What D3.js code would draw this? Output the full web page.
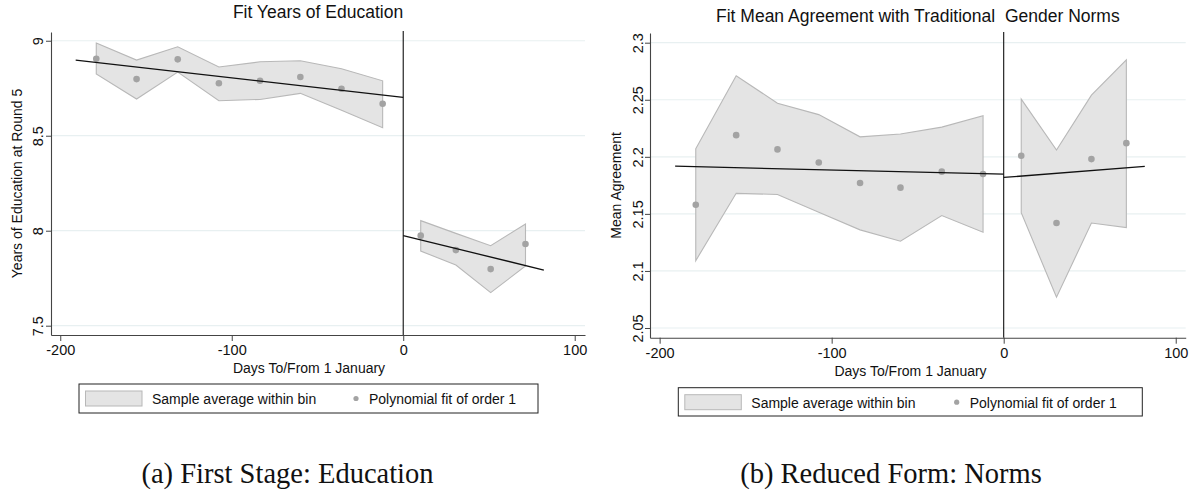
<!DOCTYPE html>
<html><head><meta charset="utf-8">
<script src="https://cdn.jsdelivr.net/npm/d3@7"></script>
<style>
body{margin:0;background:#fff;}
svg{display:block;font-family:"Liberation Sans",Arial,Helvetica,sans-serif;}
</style></head>
<body><svg id="c" width="1197" height="496"></svg>
<script>
// ---- data ----
const binsLeft = [-179, -155.5, -131.5, -107.5, -83.5, -60, -36, -12];
const binsRight = [10.2, 30.7, 51, 71.3];
const fitXLeft = [-191, 0];
const fitXRight = [0, 82];
const xTicks = [-200, -100, 0, 100];
const xTickLabels = ["-200", "-100", "0", "100"];

const eduMeanL = [8.905, 8.798, 8.902, 8.776, 8.789, 8.809, 8.747, 8.668];
const eduUpL   = [8.988, 8.898, 8.968, 8.862, 8.889, 8.895, 8.853, 8.789];
const eduLoL   = [8.825, 8.693, 8.835, 8.684, 8.691, 8.723, 8.634, 8.542];
const eduMeanR = [7.974, 7.898, 7.798, 7.930];
const eduUpR   = [8.053, 7.986, 7.921, 8.035];
const eduLoR   = [7.893, 7.819, 7.674, 7.814];
const eduFitL  = [8.898, 8.702];
const eduFitR  = [7.974, 7.793];
const eduTicks = [7.5, 8, 8.5, 9];
const eduTickLabels = ["7.5", "8", "8.5", "9"];

const normMeanL = [2.158, 2.219, 2.2065, 2.195, 2.177, 2.173, 2.187, 2.185];
const normUpL   = [2.207, 2.271, 2.247, 2.237, 2.2175, 2.220, 2.226, 2.236];
const normLoL   = [2.109, 2.168, 2.167, 2.1515, 2.136, 2.126, 2.1485, 2.134];
const normMeanR = [2.201, 2.142, 2.198, 2.212];
const normUpR   = [2.2506, 2.206, 2.254, 2.285];
const normLoR   = [2.151, 2.077, 2.142, 2.138];
const normFitL  = [2.1918, 2.1848];
const normFitR  = [2.1819, 2.1916];
const normTicks = [2.05, 2.1, 2.15, 2.2, 2.25, 2.3];
const normTickLabels = ["2.05", "2.1", "2.15", "2.2", "2.25", "2.3"];

const legendLabels = ["Sample average within bin", "Polynomial fit of order 1"];

const svg = d3.select("#c");

function panel(o) {
  const g = svg.append("g");
  const x = d3.scaleLinear().domain(o.xDom).range([o.left, o.right]);
  const y = d3.scaleLinear().domain(o.yDom).range([o.bottom, o.top]);

  // grid
  g.selectAll(".grid").data(o.yTicks).join("line")
    .attr("x1", o.left).attr("x2", o.right)
    .attr("y1", d => y(d)).attr("y2", d => y(d))
    .attr("stroke", "#e8f0f1").attr("stroke-width", 1.2);

  // bands
  const area = d3.area().x(d => x(d.x)).y0(d => y(d.lo)).y1(d => y(d.hi));
  [[binsLeft, o.upL, o.loL], [binsRight, o.upR, o.loR]].forEach(([bx, up, lo]) => {
    const pts = bx.map((v, i) => ({x: v, hi: up[i], lo: lo[i]}));
    g.append("path").attr("d", area(pts) + "Z")
      .attr("fill", "#e4e4e4").attr("stroke", "#b8b8b8").attr("stroke-width", 1.1);
  });

  // points
  [[binsLeft, o.meanL], [binsRight, o.meanR]].forEach(([bx, m]) => {
    g.selectAll(null).data(bx.map((v, i) => [v, m[i]])).join("circle")
      .attr("cx", d => x(d[0])).attr("cy", d => y(d[1])).attr("r", 3.3)
      .attr("fill", "#a3a3a3");
  });

  // fit lines
  const line = d3.line().x(d => x(d[0])).y(d => y(d[1]));
  [[fitXLeft, o.fitL], [fitXRight, o.fitR]].forEach(([fx, fy]) => {
    g.append("path").attr("d", line(fx.map((v, i) => [v, fy[i]])))
      .attr("fill", "none").attr("stroke", "#111").attr("stroke-width", 1.3);
  });

  // cutoff line
  g.append("line").attr("x1", x(0)).attr("x2", x(0))
    .attr("y1", o.top - 1).attr("y2", o.bottom)
    .attr("stroke", "#111").attr("stroke-width", 1.1);

  // axes
  const xa = g.append("g").attr("transform", `translate(0,${o.bottom})`)
    .call(d3.axisBottom(x).tickValues(xTicks).tickSize(6).tickSizeOuter(0)
      .tickFormat((d, i) => xTickLabels[i]));
  xa.select(".domain").attr("stroke", "#444").attr("stroke-width", 1.1);
  xa.selectAll(".tick line").attr("stroke", "#444");
  xa.selectAll("text").attr("font-size", 14.5).attr("fill", "#111").attr("dy", "0.71em").attr("y", 10)
    .attr("font-family", '"Liberation Sans",Arial,sans-serif');

  const ya = g.append("g").attr("transform", `translate(${o.left},0)`)
    .call(d3.axisLeft(y).tickValues(o.yTicks).tickSize(5).tickSizeOuter(0)
      .tickFormat((d, i) => o.yTickLabels[i]));
  ya.select(".domain").attr("stroke", "#444").attr("stroke-width", 1.1);
  ya.selectAll(".tick line").attr("stroke", "#444");
  ya.selectAll("text").attr("font-size", 14.5).attr("fill", "#111")
    .attr("font-family", '"Liberation Sans",Arial,sans-serif')
    .attr("x", null).attr("dy", null)
    .attr("text-anchor", "middle")
    .attr("transform", `translate(${o.tickBase - o.left},0) rotate(-90)`);

  // titles
  svg.append("text").attr("x", (o.left + o.right) / 2).attr("y", o.titleY)
    .attr("text-anchor", "middle").attr("font-size", 17.5).attr("fill", "#111")
    .style("white-space", "pre").text(o.title);
  svg.append("text").attr("transform", `translate(${o.yLabelX},${(o.top + o.bottom) / 2}) rotate(-90)`)
    .attr("text-anchor", "middle").attr("font-size", 14).attr("fill", "#111").text(o.yLabel);
  svg.append("text").attr("x", o.xLabelX).attr("y", o.xLabelY)
    .attr("text-anchor", "middle").attr("font-size", 14).attr("fill", "#111").text("Days To/From 1 January");

  // legend
  const L = o.legend;
  svg.append("rect").attr("x", L.x).attr("y", L.y).attr("width", L.w).attr("height", L.h)
    .attr("fill", "#fff").attr("stroke", "#222").attr("stroke-width", 1);
  svg.append("rect").attr("x", L.x + 6.5).attr("y", L.y + 7).attr("width", 56.5).attr("height", 15)
    .attr("fill", "#e4e4e4").attr("stroke", "#b8b8b8").attr("stroke-width", 1);
  svg.append("text").attr("x", L.x + 73).attr("y", L.y + 20).attr("font-size", 14).attr("fill", "#111").text(legendLabels[0]);
  svg.append("circle").attr("cx", L.x + L.dot).attr("cy", L.y + 14.5).attr("r", 2.6).attr("fill", "#a3a3a3");
  svg.append("text").attr("x", L.x + L.dot + 13).attr("y", L.y + 20).attr("font-size", 14).attr("fill", "#111").text(legendLabels[1]);

  // caption
  svg.append("text").attr("x", o.capX).attr("y", o.capY).attr("text-anchor", "middle")
    .attr("font-family", '"Liberation Serif","Times New Roman",serif').attr("font-size", 28.5)
    .attr("fill", "#111").text(o.caption);
}

panel({
  xDom: [-205.4, 106], yDom: [7.451, 9.046],
  left: 51, right: 585, top: 32, bottom: 335,
  yTicks: eduTicks, yTickLabels: eduTickLabels, tickBase: 43,
  meanL: eduMeanL, upL: eduUpL, loL: eduLoL, meanR: eduMeanR, upR: eduUpR, loR: eduLoR,
  fitL: eduFitL, fitR: eduFitR,
  title: "Fit Years of Education", titleY: 18,
  yLabel: "Years of Education at Round 5", yLabelX: 21.5,
  xLabelX: 309, xLabelY: 373,
  legend: {x: 79, y: 384, w: 459, h: 29, dot: 277},
  caption: "(a) First Stage: Education", capX: 287.5, capY: 483
});

panel({
  xDom: [-205.6, 105.8], yDom: [2.0415, 2.3085],
  left: 650, right: 1185.7, top: 33, bottom: 337.7,
  yTicks: normTicks, yTickLabels: normTickLabels, tickBase: 643,
  meanL: normMeanL, upL: normUpL, loL: normLoL, meanR: normMeanR, upR: normUpR, loR: normLoR,
  fitL: normFitL, fitR: normFitR,
  title: "Fit Mean Agreement with Traditional  Gender Norms", titleY: 22,
  yLabel: "Mean Agreement", yLabelX: 621,
  xLabelX: 910.5, xLabelY: 376,
  legend: {x: 678.3, y: 387.7, w: 464, h: 28.3, dot: 278.4},
  caption: "(b) Reduced Form: Norms", capX: 891, capY: 483
});
</script></body></html>
